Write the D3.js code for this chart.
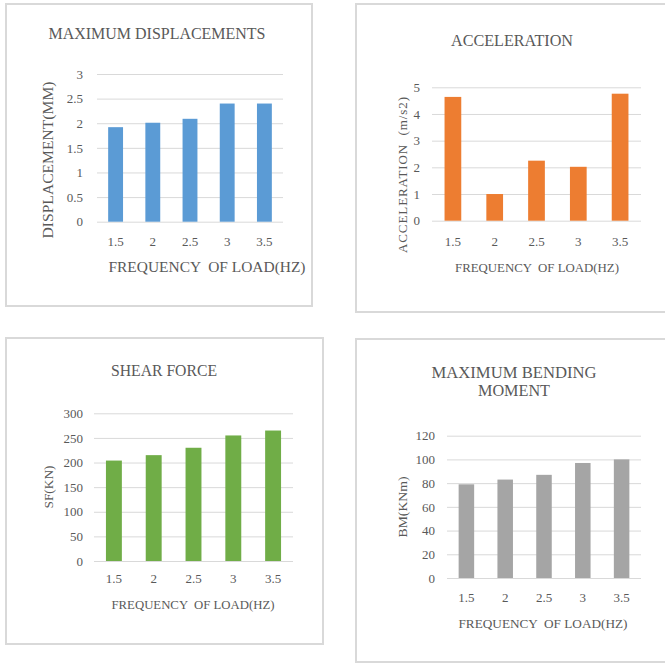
<!DOCTYPE html>
<html>
<head>
<meta charset="utf-8">
<script src="https://cdn.jsdelivr.net/npm/d3@7"></script>
<style>
  html, body { margin: 0; padding: 0; background: #ffffff; }
  svg { display: block; }
  svg text { font-family: "Liberation Serif", "Times New Roman", Times, "DejaVu Serif", serif !important; fill: #595959; }
</style>
</head>
<body>
<svg id="chart" width="665" height="664"></svg>
<script>
// Load frequencies shared by all four charts
const frequencies = ["1.5", "2", "2.5", "3", "3.5"];

// Response values per load frequency
const displacement = [1.92, 2.01, 2.09, 2.40, 2.40];     // mm
const acceleration = [4.64, 1.00, 2.25, 2.02, 4.76];     // m/s2
const shearForce = [204, 215, 230, 255, 265];            // kN
const bendingMoment = [79, 83, 87, 97, 100];             // kNm

// Value-axis ticks
const displacementTicks = [0, 0.5, 1, 1.5, 2, 2.5, 3];
const accelerationTicks = [0, 1, 2, 3, 4, 5];
const shearTicks = [0, 50, 100, 150, 200, 250, 300];
const momentTicks = [0, 20, 40, 60, 80, 100, 120];

// Titles and axis labels
const titles = [["MAXIMUM DISPLACEMENTS"], ["ACCELERATION"], ["SHEAR FORCE"], ["MAXIMUM BENDING", "MOMENT"]];
const yLabels = ["DISPLACEMENT(MM)", "ACCELERATION  (m/s2)", "SF(KN)", "BM(KNm)"];
const xLabel = "FREQUENCY  OF LOAD(HZ)";

const SERIF = '"Liberation Serif", "Times New Roman", Times, "DejaVu Serif", serif';
const svg = d3.select("#chart");

// Layout of each chart card
const panels = [
  {
    values: displacement, ticks: displacementTicks, color: "#5b9bd5",
    title: titles[0], yLabel: yLabels[0],
    box: [6, 4, 312, 306],
    plot: { left: 97, right: 283, top: 74, bottom: 221.7 },
    titleX: 157, titleY: 33, titleLen: [217], titleSize: 16,
    yLabelX: 48, yLabelY: 160, yLabelLen: 157, yLabelSize: 15, yLabelAdjust: "spacingAndGlyphs",
    yPad: 14, xTickY: 241,
    xTitleX: 207, xTitleY: 267, xTitleLen: 197, xTitleSize: 15
  },
  {
    values: acceleration, ticks: accelerationTicks, color: "#ed7d31",
    title: titles[1], yLabel: yLabels[1],
    box: [356, 4, 668, 312],
    plot: { left: 432, right: 641, top: 87.3, bottom: 220.7 },
    titleX: 512, titleY: 40, titleLen: [122], titleSize: 16,
    yLabelX: 402, yLabelY: 175, yLabelLen: 156, yLabelSize: 13, yLabelAdjust: "spacing",
    yPad: 12, xTickY: 241,
    xTitleX: 537, xTitleY: 267, xTitleLen: 164, xTitleSize: 13
  },
  {
    values: shearForce, ticks: shearTicks, color: "#70ad47",
    title: titles[2], yLabel: yLabels[2],
    box: [6, 338, 323, 644],
    plot: { left: 94, right: 293, top: 413.3, bottom: 561 },
    titleX: 164, titleY: 370, titleLen: [106], titleSize: 16,
    yLabelX: 48, yLabelY: 487, yLabelLen: 43, yLabelSize: 13, yLabelAdjust: "spacingAndGlyphs",
    yPad: 11, xTickY: 578,
    xTitleX: 193, xTitleY: 604, xTitleLen: 163, xTitleSize: 13
  },
  {
    values: bendingMoment, ticks: momentTicks, color: "#a5a5a5",
    title: titles[3], yLabel: yLabels[3],
    box: [356, 339, 668, 662],
    plot: { left: 447, right: 641, top: 435.7, bottom: 578 },
    titleX: 514, titleY: 372, titleLen: [165, 72], titleSize: 16,
    yLabelX: 402, yLabelY: 507, yLabelLen: 61, yLabelSize: 13, yLabelAdjust: "spacingAndGlyphs",
    yPad: 12, xTickY: 597,
    xTitleX: 543, xTitleY: 623, xTitleLen: 169, xTitleSize: 13
  }
];

panels.forEach(p => {
  const g = svg.append("g");

  // card border
  g.append("rect")
    .attr("x", p.box[0]).attr("y", p.box[1])
    .attr("width", p.box[2] - p.box[0]).attr("height", p.box[3] - p.box[1])
    .attr("fill", "#ffffff").attr("stroke", "#d9d9d9").attr("stroke-width", 2);

  const x = d3.scaleBand()
    .domain(frequencies)
    .range([p.plot.left, p.plot.right])
    .paddingInner(0.6).paddingOuter(0.3);

  const y = d3.scaleLinear()
    .domain([0, d3.max(p.ticks)])
    .range([p.plot.bottom, p.plot.top]);

  // value axis with gridlines
  const yAxis = g.append("g")
    .attr("transform", `translate(${p.plot.left},0)`)
    .call(d3.axisLeft(y)
      .tickValues(p.ticks)
      .tickFormat(d3.format("~g"))
      .tickSize(-(p.plot.right - p.plot.left))
      .tickPadding(p.yPad))
    .attr("font-family", null);
  yAxis.select(".domain").remove();
  yAxis.selectAll(".tick line").attr("stroke", "#d9d9d9").attr("stroke-width", 1);
  yAxis.selectAll(".tick text")
    .style("font-family", SERIF)
    .attr("font-size", 13).attr("fill", "#595959");

  // bars
  g.append("g").selectAll("rect")
    .data(p.values)
    .join("rect")
    .attr("x", (d, i) => x(frequencies[i]))
    .attr("width", x.bandwidth())
    .attr("y", d => y(d))
    .attr("height", d => y(0) - y(d))
    .attr("fill", p.color);

  // category axis
  const xAxis = g.append("g")
    .attr("transform", `translate(0,${p.plot.bottom})`)
    .call(d3.axisBottom(x).tickSize(0))
    .attr("font-family", null);
  xAxis.select(".domain").remove();
  xAxis.selectAll(".tick text")
    .attr("y", p.xTickY - p.plot.bottom).attr("dy", "0.35em")
    .style("font-family", SERIF)
    .attr("font-size", 13).attr("fill", "#595959");

  // chart title
  p.title.forEach((line, i) => {
    g.append("text")
      .attr("x", p.titleX).attr("y", p.titleY + i * 18)
      .attr("text-anchor", "middle").attr("dominant-baseline", "central")
      .style("font-family", SERIF)
      .attr("font-size", p.titleSize)
      .attr("textLength", p.titleLen[i]).attr("lengthAdjust", "spacingAndGlyphs")
      .text(line);
  });

  // value axis title
  g.append("text")
    .attr("transform", `translate(${p.yLabelX},${p.yLabelY}) rotate(-90)`)
    .attr("text-anchor", "middle").attr("dominant-baseline", "central")
    .style("font-family", SERIF)
    .attr("font-size", p.yLabelSize)
    .attr("textLength", p.yLabelLen).attr("lengthAdjust", p.yLabelAdjust)
    .style("white-space", "pre")
    .text(p.yLabel);

  // category axis title
  g.append("text")
    .attr("x", p.xTitleX).attr("y", p.xTitleY)
    .attr("text-anchor", "middle").attr("dominant-baseline", "central")
    .style("font-family", SERIF)
    .attr("font-size", p.xTitleSize)
    .attr("textLength", p.xTitleLen).attr("lengthAdjust", "spacingAndGlyphs")
    .style("white-space", "pre")
    .text(xLabel);
});
</script>
</body>
</html>
